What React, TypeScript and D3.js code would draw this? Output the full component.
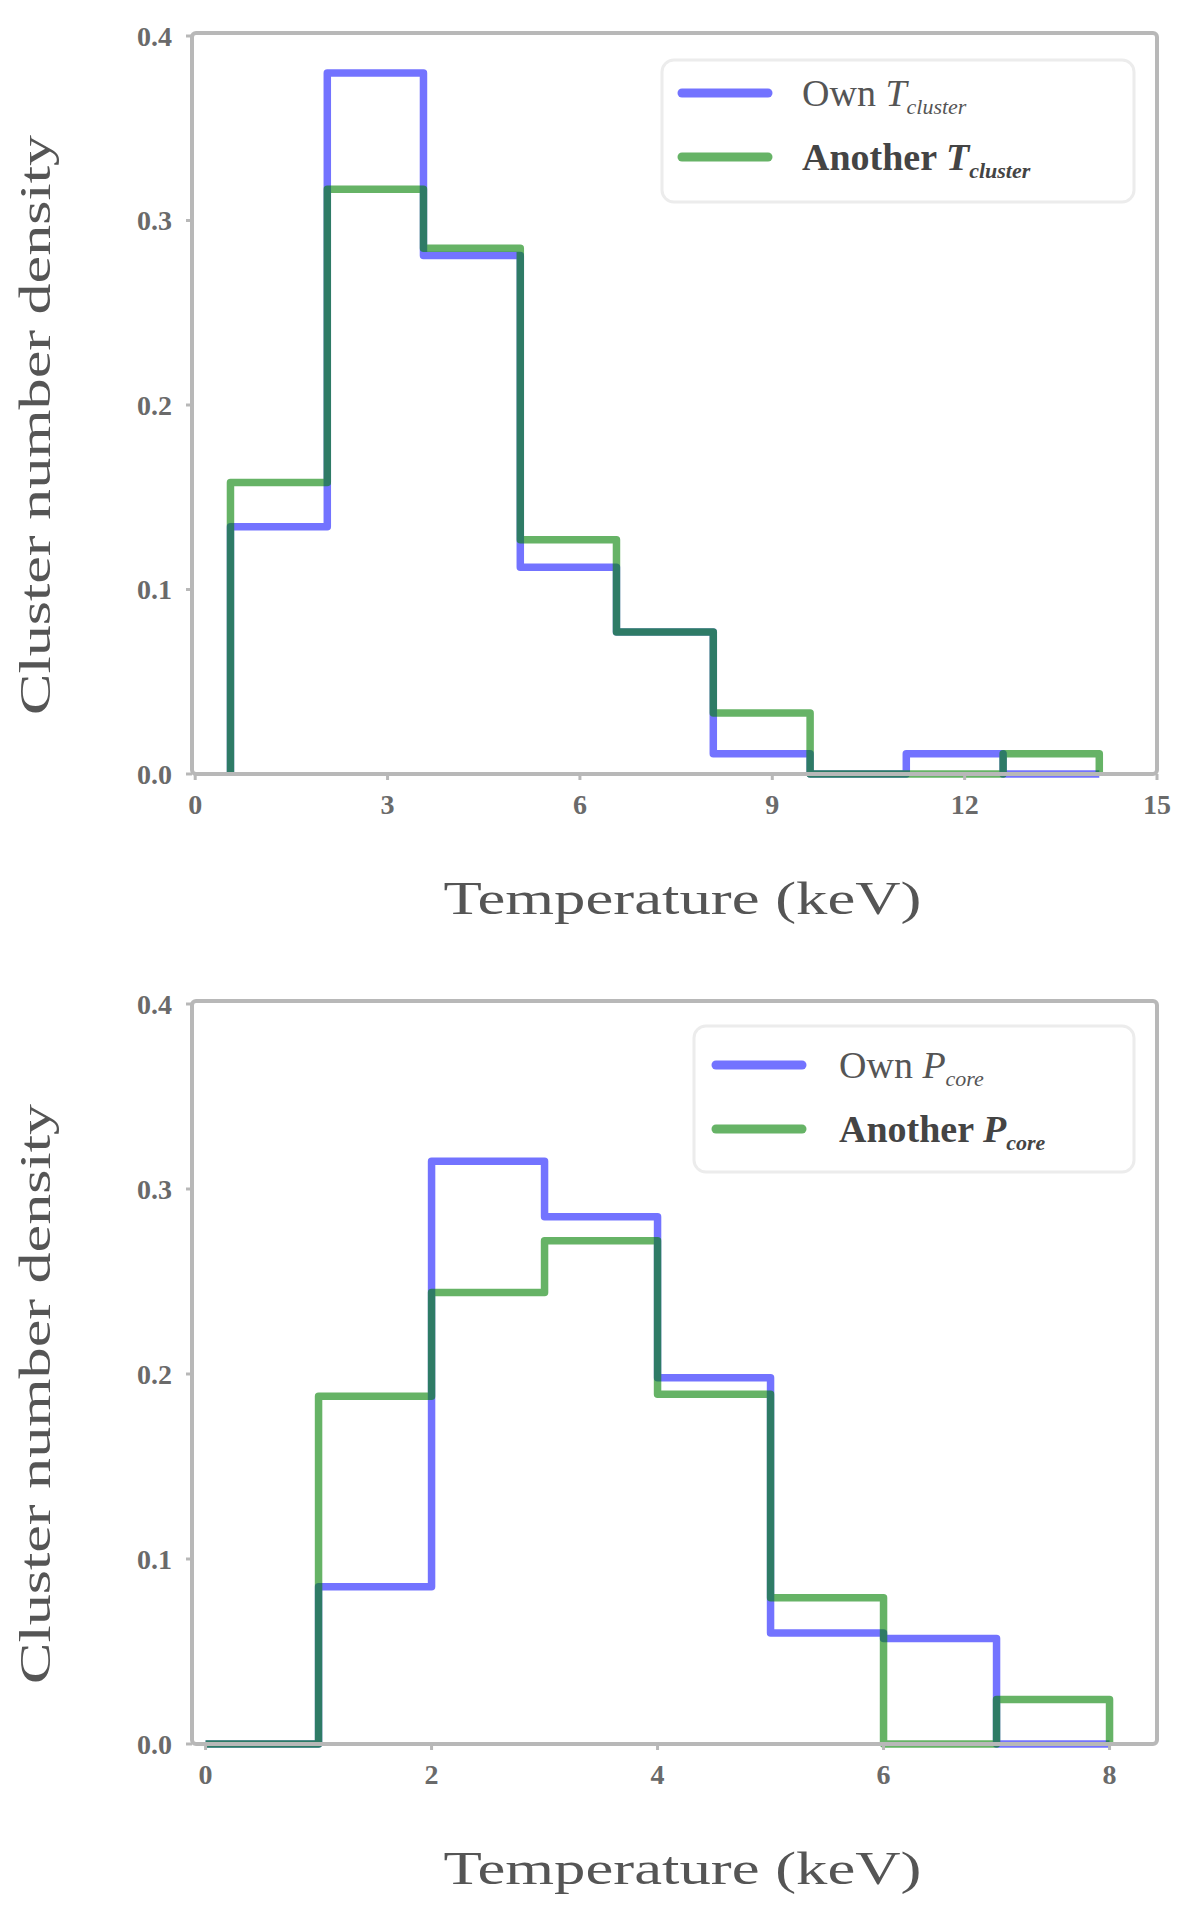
import React from 'react';
import * as d3 from 'd3';

// bin edges and normalised counts
const clusterEdges = [0.55, 2.06, 3.56, 5.07, 6.57, 8.08, 9.59, 11.09, 12.6, 14.1];
const ownCluster = [0.134, 0.380, 0.281, 0.112, 0.077, 0.011, 0, 0.011, 0];
const otherCluster = [0.158, 0.317, 0.285, 0.127, 0.077, 0.033, 0, 0, 0.011];

const coreEdges = [0, 1, 2, 3, 4, 5, 6, 7, 8];
const ownCore = [0, 0.085, 0.315, 0.285, 0.198, 0.060, 0.057, 0];
const otherCore = [0, 0.188, 0.244, 0.272, 0.189, 0.079, 0, 0.024];

const yTicks = [0, 0.1, 0.2, 0.3, 0.4];
const clusterXTicks = [0, 3, 6, 9, 12, 15];
const coreXTicks = [0, 2, 4, 6, 8];

const BLUE = '#0000ff';
const GREEN = '#008000';
const FRAME = '#b8b8b8';
const FONT = '"Liberation Serif", "DejaVu Serif", serif';

function stepPoints(edges, values) {
    const n = values.length;
    const pts = [[edges[0], 0]];
    values.forEach((v, i) => pts.push([edges[i], v]));
    pts.push([edges[n], values[n - 1]]);
    pts.push([edges[n], 0]);
    return pts;
}

const Panel = ({ top, bottom, xDomain, xTicks, edges, own, other, sub, symbol, legend }) => {
    const left = 192;
    const right = 1157;
    const x = d3.scaleLinear().domain(xDomain).range([left, right]);
    const y = d3.scaleLinear().domain([0, 0.4]).range([bottom, top]);

    const line = d3.line()
        .x(d => x(d[0]))
        .y(d => y(d[1]))
        .curve(d3.curveStepAfter);

    const labelText = (who) => (
        <>
            {who} <tspan fontStyle="italic">{symbol}</tspan>
            <tspan fontStyle="italic" fontSize="22" dy="8">{sub}</tspan>
        </>
    );

    return (
        <g>
            {/* step histograms */}
            <path d={line(stepPoints(edges, own))} fill="none" stroke={BLUE} strokeOpacity={0.55}
                strokeWidth={7.5} strokeLinejoin="round" />
            <path d={line(stepPoints(edges, other))} fill="none" stroke={GREEN} strokeOpacity={0.6}
                strokeWidth={7.5} strokeLinejoin="round" />

            {/* frame */}
            <rect x={left} y={top - 3} width={right - left} height={bottom - top + 3} fill="none"
                stroke={FRAME} strokeWidth={4} rx={4} />

            {/* y ticks */}
            {yTicks.map(t => (
                <g key={'y' + t}>
                    <line x1={left - 6} x2={left} y1={y(t)} y2={y(t)} stroke={FRAME} strokeWidth={3} />
                    <text x={left - 20} y={y(t)} dy="0.35em" textAnchor="end" fontFamily={FONT}
                        fontSize={28} fill="#6a6a6a" fontWeight="bold">{t.toFixed(1)}</text>
                </g>
            ))}

            {/* x ticks */}
            {xTicks.map(t => (
                <g key={'x' + t}>
                    <line x1={x(t)} x2={x(t)} y1={bottom} y2={bottom + 6} stroke={FRAME} strokeWidth={3} />
                    <text x={x(t)} y={bottom + 40} textAnchor="middle" fontFamily={FONT}
                        fontSize={28} fill="#6a6a6a" fontWeight="bold">{t}</text>
                </g>
            ))}

            {/* axis labels */}
            <text x={(left + right) / 2 + 8} y={bottom + 140} textAnchor="middle" fontFamily={FONT}
                fontSize={46} fill="#555" textLength={478} lengthAdjust="spacingAndGlyphs">Temperature (keV)</text>
            <text transform={`translate(50,${(top + bottom) / 2 + 20}) rotate(-90)`} textAnchor="middle"
                fontFamily={FONT} fontSize={44} fill="#555" textLength={580}
                lengthAdjust="spacingAndGlyphs">Cluster number density</text>

            {/* legend */}
            <g transform={`translate(${legend.x},${legend.y})`}>
                <rect x={0} y={0} width={legend.w} height={legend.h} rx={12} fill="#fff"
                    stroke="#ececec" strokeWidth={3} />
                <line x1={legend.lx} x2={legend.lx + 86} y1={legend.r1} y2={legend.r1} stroke={BLUE}
                    strokeOpacity={0.55} strokeWidth={9} strokeLinecap="round" />
                <line x1={legend.lx} x2={legend.lx + 86} y1={legend.r2} y2={legend.r2} stroke={GREEN}
                    strokeOpacity={0.6} strokeWidth={9} strokeLinecap="round" />
                <text x={legend.tx} y={legend.r1} dy="0.35em" fontFamily={FONT} fontSize={38}
                    fill="#555">{labelText('Own')}</text>
                <text x={legend.tx} y={legend.r2} dy="0.35em" fontFamily={FONT} fontSize={38}
                    fill="#444" fontWeight="bold">{labelText('Another')}</text>
            </g>
        </g>
    );
};

export default function App() {
    return (
        <svg width={1200} height={1920} style={{ position: 'absolute', left: 0, top: 0, background: '#fff' }}>
            <Panel top={36} bottom={774} xDomain={[-0.05, 15]} xTicks={clusterXTicks}
                edges={clusterEdges} own={ownCluster} other={otherCluster}
                symbol="T" sub="cluster"
                legend={{ x: 662, y: 60, w: 472, h: 142, lx: 20, r1: 33, r2: 97, tx: 140 }} />
            <Panel top={1004} bottom={1744} xDomain={[-0.12, 8.42]} xTicks={coreXTicks}
                edges={coreEdges} own={ownCore} other={otherCore}
                symbol="P" sub="core"
                legend={{ x: 694, y: 1026, w: 440, h: 146, lx: 22, r1: 39, r2: 103, tx: 145 }} />
        </svg>
    );
}
